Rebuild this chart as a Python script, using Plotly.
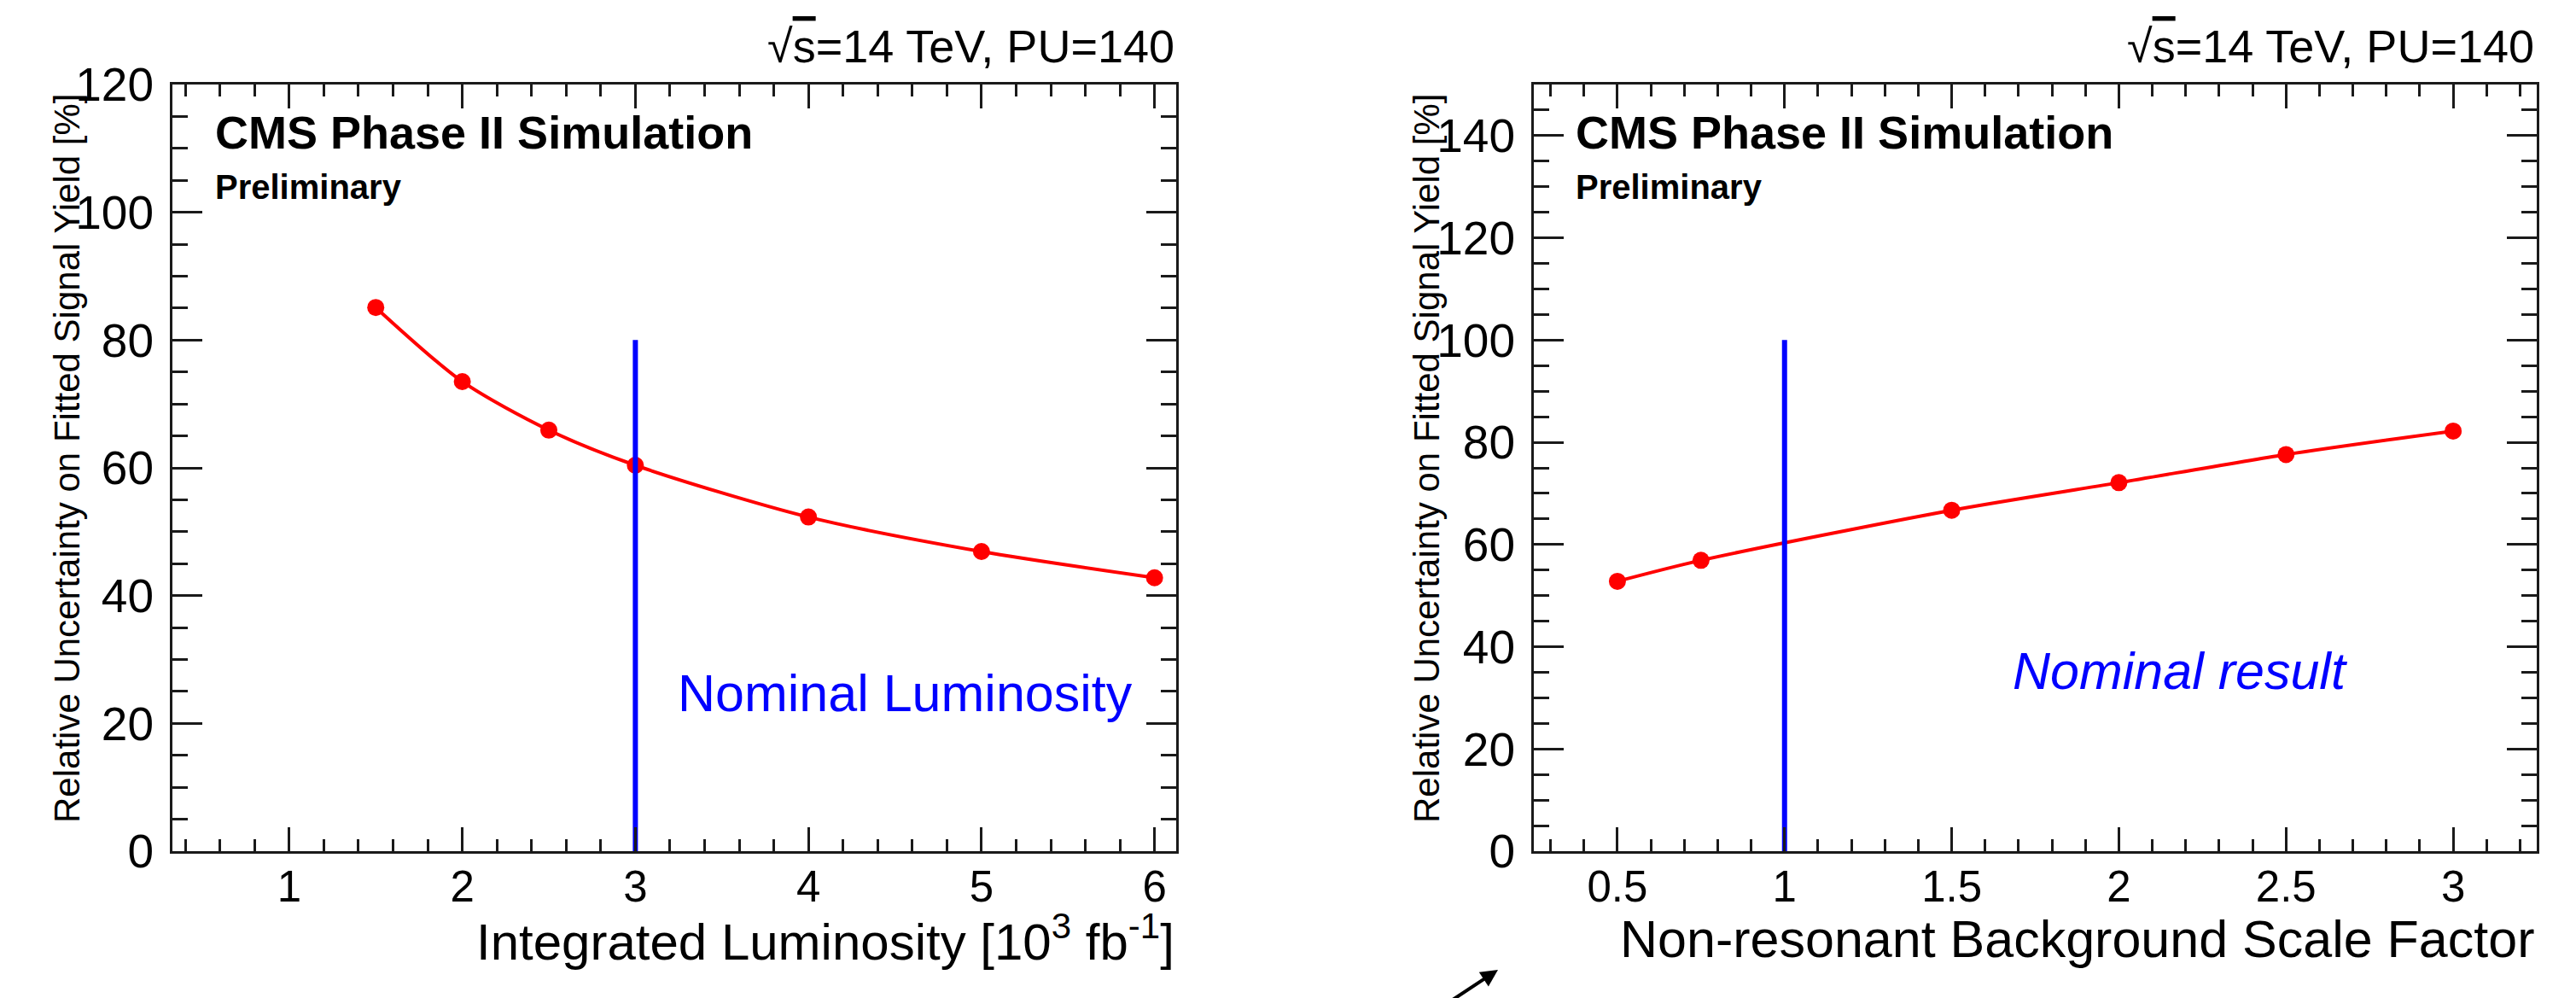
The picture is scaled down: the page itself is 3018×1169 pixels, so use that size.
import plotly.graph_objects as go

W, H = 3018, 1169
OFF = 8  # the page body has a default 8px margin; compensate so positions match

# ---- data ----
lumi = [1.5, 2, 2.5, 3, 4, 5, 6]
unc_lumi = [85.1, 73.5, 65.9, 60.4, 52.3, 46.9, 42.8]
bkg_scale = [0.5, 0.75, 1.5, 2, 2.5, 3]
unc_bkg = [52.8, 56.9, 66.7, 72.1, 77.6, 82.2]
nominal_lumi = 3
nominal_lumi_top = 80
nominal_scale = 1
nominal_scale_top = 100
lumi_ticks = [1, 2, 3, 4, 5, 6]
scale_ticks = [0.5, 1, 1.5, 2, 2.5, 3]
unc_ticks_left = [0, 20, 40, 60, 80, 100, 120]
unc_ticks_right = [0, 20, 40, 60, 80, 100, 120, 140]

FONT = "Liberation Sans, Arial, Helvetica, sans-serif"
RED = "#ff0000"
BLUE = "#0000ff"
AXC = "#1a1a1a"


def px(x):
    return (x - OFF) / W


def py(y):
    return 1 - (y - OFF) / H


fig = go.Figure()

fig.add_trace(go.Scatter(x=lumi, y=unc_lumi, mode="lines+markers",
                         line=dict(color=RED, width=4, shape="spline", smoothing=0.8),
                         marker=dict(color=RED, size=20), xaxis="x", yaxis="y", showlegend=False))
fig.add_trace(go.Scatter(x=[nominal_lumi, nominal_lumi], y=[0, nominal_lumi_top], mode="lines",
                         line=dict(color=BLUE, width=6), xaxis="x", yaxis="y", showlegend=False))
fig.add_trace(go.Scatter(x=bkg_scale, y=unc_bkg, mode="lines+markers",
                         line=dict(color=RED, width=4, shape="spline", smoothing=0.8),
                         marker=dict(color=RED, size=20), xaxis="x2", yaxis="y2", showlegend=False))
fig.add_trace(go.Scatter(x=[nominal_scale, nominal_scale], y=[0, nominal_scale_top], mode="lines",
                         line=dict(color=BLUE, width=6), xaxis="x2", yaxis="y2", showlegend=False))

ydom = [py(997), py(99)]


def xaxis(domain, rng, tickvals, minor_dtick, anchor):
    return dict(domain=domain, range=rng, tickvals=tickvals, ticktext=[f"{v:g}" for v in tickvals],
                showline=True, linecolor=AXC, linewidth=3, mirror="allticks",
                ticks="inside", ticklen=28, tickwidth=2.5, tickcolor=AXC,
                minor=dict(dtick=minor_dtick, tick0=0, ticks="inside", ticklen=14, tickwidth=2.5, tickcolor=AXC),
                showgrid=False, zeroline=False, anchor=anchor, automargin=False,
                tickfont=dict(family=FONT, size=51, color="black"), ticklabelstandoff=-5)


def yaxis(domain, rng, tickvals, anchor):
    return dict(domain=domain, range=rng, tickvals=tickvals, ticktext=[str(v) for v in tickvals],
                showline=True, linecolor=AXC, linewidth=3, mirror="allticks",
                ticks="inside", ticklen=35, tickwidth=2.5, tickcolor=AXC,
                minor=dict(dtick=5, tick0=0, ticks="inside", ticklen=18, tickwidth=2.5, tickcolor=AXC),
                showgrid=False, zeroline=False, anchor=anchor, automargin=False,
                tickfont=dict(family=FONT, size=55, color="black"), ticklabelstandoff=8)


annots = []


def txt(text, x, y, size, xanchor="left", yanchor="middle", color="black", angle=0):
    annots.append(dict(text=text, x=px(x), y=py(y), xref="paper", yref="paper", showarrow=False,
                       xanchor=xanchor, yanchor=yanchor, textangle=angle,
                       font=dict(family=FONT, size=size, color=color)))


energy = "√<span style='text-decoration:overline'>s</span>=14 TeV, PU=140"
ytitle = "Relative Uncertainty on Fitted Signal Yield [%]"

# left panel texts
txt(energy, 1378, 54, 54, xanchor="right")
txt("<b>CMS Phase II Simulation</b>", 250, 155, 54)
txt("<b>Preliminary</b>", 250, 219, 40)
txt("Nominal Luminosity", 792, 812, 61, color=BLUE)
txt("Integrated Luminosity [10<sup>3</sup> fb<sup>-1</sup>]", 1378, 1139, 60, xanchor="right", yanchor="bottom")
txt(ytitle, 78, 537, 42, xanchor="center", angle=-90)

# right panel texts
txt(energy, 2971, 54, 54, xanchor="right")
txt("<b>CMS Phase II Simulation</b>", 1844, 155, 54)
txt("<b>Preliminary</b>", 1844, 219, 40)
txt("<i>Nominal result</i>", 2356, 786, 61, color=BLUE)
txt("Non-resonant Background Scale Factor", 2971, 1136, 61, xanchor="right", yanchor="bottom")
txt(ytitle, 1671, 537, 42, xanchor="center", angle=-90)

# small arrow at the bottom of the slide
annots.append(dict(text="", x=px(1755), y=py(1136), xref="paper", yref="paper", showarrow=True,
                   ax=-62, ay=42, arrowhead=2, arrowsize=1, arrowwidth=4, arrowcolor="black"))

fig.update_layout(
    width=W, height=H, margin=dict(l=0, r=0, t=0, b=0, pad=0, autoexpand=False),
    paper_bgcolor="white", plot_bgcolor="white",
    font=dict(family=FONT, color="black"),
    xaxis=xaxis([px(202), px(1378)], [0.325, 6.125], lumi_ticks, 0.2, "y"),
    yaxis=yaxis(ydom, [0, 120], unc_ticks_left, "x"),
    xaxis2=xaxis([px(1797), px(2972)], [0.25, 3.25], scale_ticks, 0.1, "y2"),
    yaxis2=yaxis(ydom, [0, 150], unc_ticks_right, "x2"),
    annotations=annots,
)

fig.write_html("out.html")
